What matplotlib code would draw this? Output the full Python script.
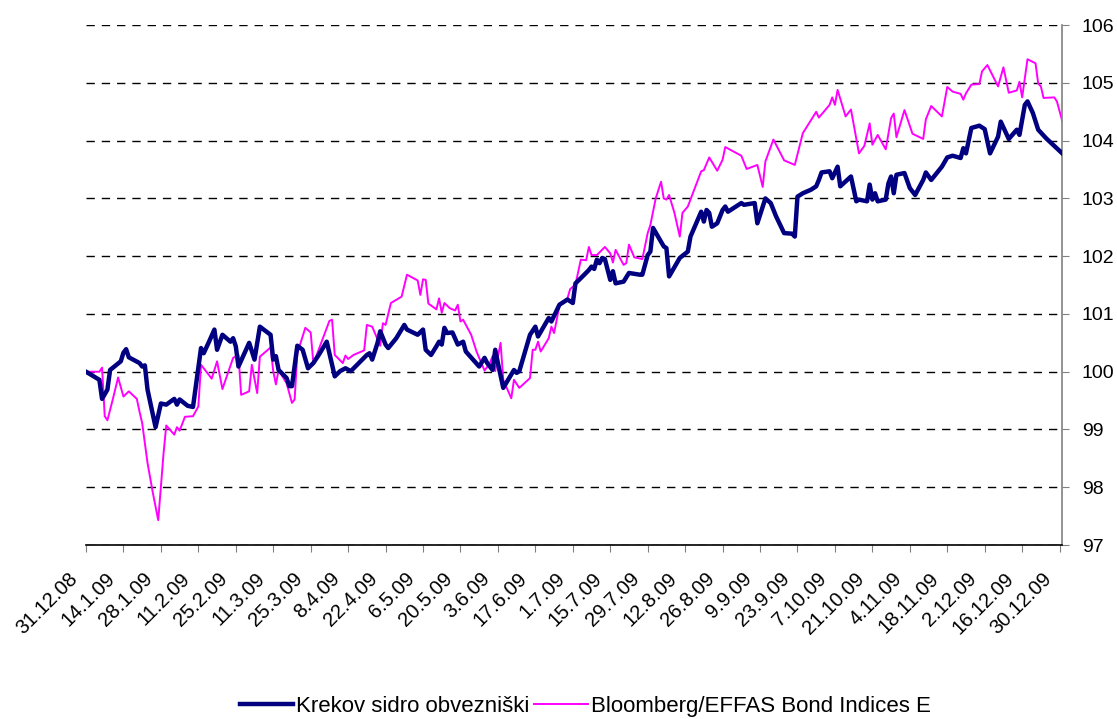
import datetime as dt
import matplotlib
matplotlib.use("Agg")
import matplotlib.pyplot as plt
import matplotlib.dates as mdates
from matplotlib.transforms import ScaledTranslation

plt.rcParams['font.family'] = ['Liberation Sans', 'DejaVu Sans']

start = dt.date(2008, 12, 31)

# Krekov sidro obvezniski: days after 31.12.2008, index value
krekov_days = [0, 5, 6, 8, 9, 13, 14, 15, 16, 20, 21, 22, 23, 26, 28, 30, 33, 34, 35, 38,
               40, 43, 44, 46, 48, 49, 51, 54, 55, 56, 57, 61, 63, 65, 69, 70, 71, 72, 75, 76,
               77, 79, 81, 83, 85, 87, 90, 93, 95, 97, 99, 102, 105, 106, 107, 109, 110, 112, 113, 116,
               119, 120, 124, 126, 127, 129, 131, 132, 133, 134, 135, 137, 139, 141, 142, 147, 149, 150, 152, 153,
               154, 156, 160, 161, 162, 166, 168, 169, 173, 174, 177, 180, 182, 183, 185, 188, 189, 190, 191, 192,
               193, 194, 196, 197, 198, 201, 203, 207, 208, 210, 211, 212, 216, 217, 218, 222, 225, 226, 229, 230,
               231, 232, 233, 234, 236, 238, 239, 240, 245, 246, 250, 251, 254, 256, 258, 261, 264, 265, 266, 268,
               271, 272, 273, 274, 275, 278, 279, 281, 282, 286, 288, 289, 292, 293, 294, 295, 296, 299, 300, 301,
               302, 303, 306, 308, 310, 313, 314, 316, 320, 322, 324, 327, 328, 329, 331, 334, 336, 338, 341, 342,
               345, 348, 349, 351, 352, 354, 356, 359, 365]
krekov = [100.00, 99.86, 99.53, 99.69, 100.03, 100.18, 100.33, 100.39, 100.25, 100.15, 100.09, 100.11, 99.69, 99.04, 99.45, 99.43, 99.53, 99.43, 99.52, 99.41,
          99.39, 100.41, 100.32, 100.52, 100.73, 100.38, 100.64, 100.52, 100.58, 100.44, 100.09, 100.50, 100.21, 100.78, 100.64, 100.21, 100.27, 100.03, 99.89, 99.75,
          99.75, 100.45, 100.38, 100.06, 100.15, 100.29, 100.52, 99.92, 100.01, 100.06, 100.01, 100.15, 100.29, 100.32, 100.21, 100.50, 100.70, 100.47, 100.41, 100.58,
          100.81, 100.73, 100.64, 100.73, 100.38, 100.29, 100.44, 100.52, 100.47, 100.76, 100.67, 100.68, 100.47, 100.52, 100.35, 100.09, 100.24, 100.15, 100.03, 100.38,
          100.15, 99.72, 100.03, 99.98, 100.01, 100.64, 100.78, 100.61, 100.93, 100.87, 101.16, 101.25, 101.19, 101.53, 101.62, 101.76, 101.82, 101.78, 101.94, 101.88,
          101.97, 101.95, 101.59, 101.74, 101.53, 101.56, 101.71, 101.68, 101.68, 102.02, 102.08, 102.49, 102.17, 102.14, 101.65, 101.97, 102.08, 102.34, 102.66, 102.77,
          102.60, 102.80, 102.75, 102.51, 102.57, 102.80, 102.86, 102.77, 102.92, 102.89, 102.92, 102.57, 103.00, 102.92, 102.69, 102.40, 102.39, 102.34, 103.03, 103.09,
          103.15, 103.18, 103.21, 103.32, 103.45, 103.47, 103.35, 103.55, 103.21, 103.38, 102.95, 102.98, 102.95, 103.24, 102.98, 103.09, 102.95, 102.98, 103.26, 103.38,
          103.09, 103.41, 103.44, 103.18, 103.06, 103.32, 103.45, 103.32, 103.55, 103.71, 103.74, 103.70, 103.87, 103.78, 104.22, 104.26, 104.20, 103.78, 104.07, 104.33,
          104.03, 104.19, 104.10, 104.62, 104.68, 104.48, 104.19, 104.04, 103.78]

# Bloomberg/EFFAS Bond Indices
bloom_days = [0, 5, 6, 7, 8, 10, 12, 14, 16, 19, 20, 21, 23, 25, 27, 29, 30, 33, 34, 35,
              37, 40, 42, 43, 47, 49, 51, 55, 57, 58, 61, 62, 64, 65, 69, 70, 71, 72, 75, 77,
              78, 79, 82, 84, 85, 86, 91, 92, 93, 96, 97, 98, 100, 104, 105, 107, 110, 111, 112, 114,
              118, 120, 124, 125, 126, 127, 128, 131, 132, 133, 134, 136, 138, 139, 140, 141, 144, 146, 147, 149,
              151, 152, 153, 155, 156, 159, 160, 162, 166, 167, 168, 169, 170, 173, 174, 175, 177, 180, 181, 183,
              185, 187, 188, 189, 191, 194, 196, 197, 198, 201, 202, 203, 205, 208, 210, 211, 213, 215, 216, 217,
              218, 220, 222, 223, 225, 230, 231, 233, 236, 238, 239, 245, 247, 251, 253, 254, 257, 259, 261, 265,
              268, 273, 274, 278, 279, 280, 281, 284, 286, 289, 291, 293, 294, 296, 299, 301, 302, 303, 306, 309,
              313, 314, 316, 320, 322, 324, 327, 328, 329, 331, 334, 335, 337, 341, 343, 345, 348, 349, 350, 352,
              355, 356, 357, 358, 362, 363, 365]
bloom = [100.00, 100.00, 100.07, 99.23, 99.16, 99.52, 99.90, 99.57, 99.66, 99.53, 99.31, 99.11, 98.42, 97.90, 97.43, 98.59, 99.07, 98.91, 99.04, 98.98,
         99.22, 99.23, 99.40, 100.12, 99.88, 100.18, 99.70, 100.24, 100.29, 99.60, 99.66, 100.12, 99.63, 100.26, 100.42, 100.01, 99.78, 100.03, 99.80, 99.46,
         99.52, 100.32, 100.76, 100.68, 100.15, 100.26, 100.88, 100.90, 100.29, 100.15, 100.28, 100.22, 100.29, 100.37, 100.81, 100.78, 100.45, 100.84, 100.81, 101.19,
         101.30, 101.68, 101.58, 101.33, 101.60, 101.59, 101.18, 101.08, 101.27, 101.02, 101.19, 101.10, 101.06, 101.16, 100.87, 100.90, 100.64, 100.35, 100.24, 100.02,
         100.15, 100.27, 100.01, 100.50, 99.86, 99.54, 99.86, 99.72, 99.89, 100.38, 100.38, 100.52, 100.35, 100.58, 100.78, 100.67, 101.14, 101.27, 101.43, 101.51,
         101.94, 101.93, 102.16, 102.02, 102.02, 102.16, 102.05, 101.89, 102.11, 101.85, 101.88, 102.20, 101.98, 101.95, 102.40, 102.54, 103.00, 103.29, 103.00, 102.98,
         103.06, 102.75, 102.34, 102.75, 102.86, 103.47, 103.49, 103.71, 103.48, 103.67, 103.89, 103.74, 103.51, 103.58, 103.20, 103.64, 104.02, 103.84, 103.66, 103.58,
         104.13, 104.50, 104.40, 104.62, 104.75, 104.62, 104.88, 104.42, 104.54, 103.78, 103.91, 104.30, 103.93, 104.10, 103.85, 104.39, 104.47, 104.06, 104.53, 104.12,
         104.03, 104.37, 104.60, 104.42, 104.93, 104.85, 104.81, 104.71, 104.82, 104.97, 104.98, 105.20, 105.31, 104.94, 105.27, 104.83, 104.87, 105.02, 104.75, 105.41,
         105.34, 104.99, 104.94, 104.74, 104.75, 104.68, 104.34]

krekov_dates = [start + dt.timedelta(days=d) for d in krekov_days]
bloom_dates = [start + dt.timedelta(days=d) for d in bloom_days]
tick_dates = [start + dt.timedelta(days=14 * i) for i in range(27)]

fig = plt.figure(figsize=(11.17, 7.19), dpi=100)
ax = fig.add_axes([0.077, 0.242, 0.874, 0.723])

ax.plot(krekov_dates, krekov, color='#000080', lw=3.2, label='Krekov sidro obvezniški', zorder=3)
ax.plot(bloom_dates, bloom, color='#FF00FF', lw=1.4, label='Bloomberg/EFFAS Bond Indices E', zorder=2)

ax.set_xlim(start, start + dt.timedelta(days=365))
ax.set_ylim(97, 106)
ax.set_yticks(range(97, 107))
ax.yaxis.tick_right()
ax.yaxis.grid(True, color='black', ls=(0, (6, 5)), lw=1.0)
ax.set_axisbelow(True)

ax.set_xticks(tick_dates)
ax.xaxis.set_major_formatter(plt.FuncFormatter(
    lambda v, p: (lambda d: f"{d.day}.{d.month}.{d.strftime('%y')}")(mdates.num2date(v))))

for s in ['top', 'left']:
    ax.spines[s].set_visible(False)
ax.spines['bottom'].set_color('black')
ax.spines['bottom'].set_linewidth(1.2)
ax.spines['right'].set_color('#808080')
ax.spines['right'].set_linewidth(1.2)

ax.tick_params(axis='y', which='both', length=5, color='#808080', labelsize=14, pad=9)
ax.tick_params(axis='x', length=5, color='#808080', labelsize=14.5, pad=17)
for lab in ax.get_xticklabels():
    lab.set_rotation(45)
    lab.set_ha('right')
    lab.set_va('center')
    lab.set_rotation_mode('anchor')
    lab.set_transform(lab.get_transform() + ScaledTranslation(-8 / 72, 0, fig.dpi_scale_trans))

fig.legend(loc='lower center', bbox_to_anchor=(0.524, -0.012), ncol=2, frameon=False,
           fontsize=16, handlelength=2.4, handletextpad=0.15, columnspacing=0.2, borderpad=0)

fig.savefig('out.png', dpi=100)
